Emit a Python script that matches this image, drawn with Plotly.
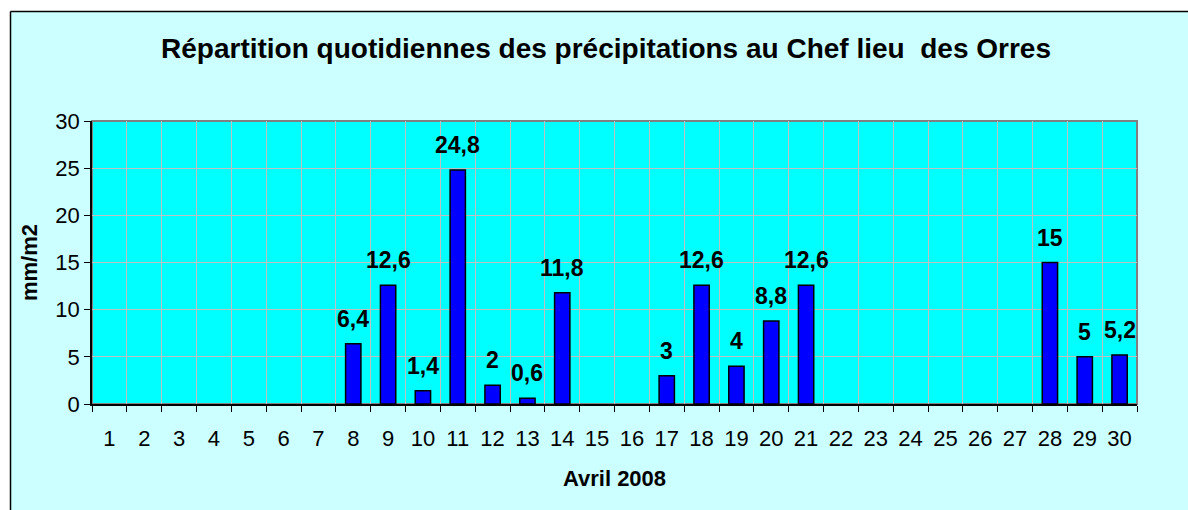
import plotly.graph_objects as go

days = [str(d) for d in range(1, 31)]
rain = [None, None, None, None, None, None, None, 6.4, 12.6, 1.4, 24.8, 2, 0.6, 11.8,
        None, None, 3, 12.6, 4, 8.8, 12.6, None, None, None, None, None, None, 15, 5, 5.2]
labels = [None if v is None else (str(v).replace(".", ",") if v != int(v) else str(int(v))) for v in rain]

title_text = "Répartition quotidiennes des précipitations au Chef lieu\u00a0 des Orres"
y_title = "mm/m2"
x_title = "Avril 2008"

FONT = "Liberation Sans, Arial, sans-serif"
W, H = 1188, 510
L, R, T, B = 92, 51, 121, 106
pw, ph = W - L - R, H - T - B

def px_x(x):
    return (x - L) / pw

def px_y(y):
    return (H - B - y) / ph

fig = go.Figure()
fig.add_trace(go.Bar(
    x=days, y=rain,
    marker=dict(color="#0000FF", line=dict(color="#000000", width=1.5)),
    hoverinfo="skip",
))

annotations = []
for i, (v, t) in enumerate(zip(rain, labels)):
    if v is None:
        continue
    annotations.append(dict(
        x=i, y=v, xref="x", yref="y", text="<b>" + t + "</b>", showarrow=False,
        yanchor="bottom", xanchor="center", yshift=10,
        font=dict(family=FONT, size=23, color="#000000"),
    ))

shapes = [
    dict(type="rect", xref="paper", yref="paper", x0=0, x1=1, y0=0, y1=1,
         line=dict(color="#808080", width=2), layer="below"),
    dict(type="rect", xref="paper", yref="paper", x0=px_x(-20), x1=px_x(10), y0=px_y(600), y1=px_y(-20),
         fillcolor="#FFFFFF", line=dict(width=0), layer="below"),
    dict(type="rect", xref="paper", yref="paper", x0=px_x(-20), x1=px_x(1220), y0=px_y(11), y1=px_y(-20),
         fillcolor="#FFFFFF", line=dict(width=0), layer="below"),
    dict(type="line", xref="paper", yref="paper", x0=px_x(10.5), x1=px_x(10.5), y0=px_y(11.5), y1=px_y(600),
         line=dict(color="#000000", width=1.5), layer="below"),
    dict(type="line", xref="paper", yref="paper", x0=px_x(10.5), x1=px_x(1220), y0=px_y(11.5), y1=px_y(11.5),
         line=dict(color="#000000", width=1.5), layer="below"),
]

fig.update_layout(
    width=W, height=H,
    margin=dict(l=L, r=R, t=T, b=B, pad=0),
    paper_bgcolor="#CCFFFF",
    plot_bgcolor="#00FFFF",
    bargap=0.56,
    showlegend=False,
    font=dict(family=FONT, size=22, color="#000000"),
    title=dict(text="<b>" + title_text + "</b>", xref="container", yref="container",
               x=606 / W, y=1 - 48 / H, xanchor="center", yanchor="middle",
               font=dict(family=FONT, size=28, color="#000000")),
    xaxis=dict(
        type="category", tickson="boundaries", showgrid=True, gridcolor="#C0C0C0", gridwidth=1,
        showline=True, linecolor="#000000", linewidth=1.5,
        ticks="outside", ticklen=6, tickcolor="#000000", ticklabelstandoff=14,
        tickfont=dict(family=FONT, size=22), range=[-0.5, 29.5],
        title=dict(text="<b>" + x_title + "</b>", standoff=20,
                   font=dict(family=FONT, size=22)),
    ),
    yaxis=dict(
        range=[0, 30], dtick=5, tick0=0, showgrid=True, gridcolor="#C0C0C0", gridwidth=1,
        zeroline=False, showline=True, linecolor="#000000", linewidth=1.5,
        ticks="outside", ticklen=6, tickcolor="#000000",
        tickfont=dict(family=FONT, size=22),
        title=dict(text="<b>" + y_title + "</b>", standoff=12,
                   font=dict(family=FONT, size=22)),
    ),
    annotations=annotations,
    shapes=shapes,
)

fig.write_html("out.html", config={"displayModeBar": False},
               post_script="document.body.style.margin='0';")
